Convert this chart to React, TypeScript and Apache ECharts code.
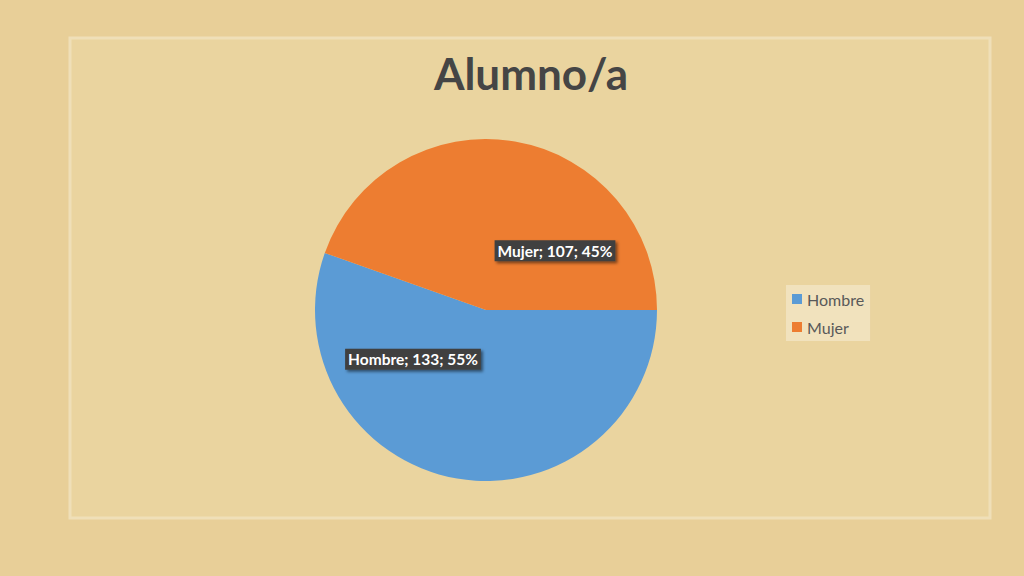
import React, { useEffect, useRef } from "react";
import * as echarts from "echarts";

const categories = ["Hombre", "Mujer"];
const values = [133, 107];
const colors = ["#5b9bd5", "#ed7d31"];
const labelOffsets: [number, number][] = [
  [-58, -38],
  [54, 28],
];
const titleText = "Alumno/a";

export default function App() {
  const ref = useRef<HTMLDivElement>(null);
  useEffect(() => {
    if (!ref.current) return;
    const chart = echarts.init(ref.current, undefined, { renderer: "svg" });
    const font = "Lato, 'Open Sans', sans-serif";
    chart.setOption({
      animation: false,
      backgroundColor: "#e8cf98",
      graphic: [
        {
          type: "rect",
          z: -10,
          shape: { x: 70, y: 38, width: 920, height: 480 },
          style: { fill: "#ead49f", stroke: "#efdfb8", lineWidth: 3 },
        },
      ],
      title: {
        text: titleText,
        left: 526,
        textAlign: "center",
        top: 46,
        textStyle: {
          fontFamily: font,
          fontWeight: "bold",
          fontSize: 44,
          color: "#454545",
        },
      },
      legend: {
        orient: "vertical",
        left: 786,
        top: 285,
        itemWidth: 10,
        itemHeight: 10,
        itemGap: 12,
        padding: [6, 6, 6, 6],
        backgroundColor: "rgba(245,235,210,0.6)",
        icon: "rect",
        data: categories,
        textStyle: { fontFamily: font, fontSize: 16, color: "#595959" },
      },
      series: [
        {
          type: "pie",
          center: [486, 310],
          radius: [0, 171],
          startAngle: 0,
          clockwise: true,
          percentPrecision: 0,
          avoidLabelOverlap: false,
          data: categories.map((c, i) => ({
            name: c,
            value: values[i],
            itemStyle: { color: colors[i] },
            label: { offset: labelOffsets[i] },
          })),
          label: {
            show: true,
            position: "inside",
            formatter: "{b}; {c}; {d}%",
            fontFamily: font,
            fontWeight: "bold",
            fontSize: 15.5,
            color: "#ffffff",
            backgroundColor: "#404040",
            padding: [3, 3, 2, 3],
            shadowBlur: 3,
            shadowColor: "rgba(0,0,0,0.5)",
            shadowOffsetX: 2,
            shadowOffsetY: 2,
          },
          labelLine: { show: false },
          emphasis: { disabled: true },
        },
      ],
    });
    return () => chart.dispose();
  }, []);
  return (
    <div
      ref={ref}
      style={{ position: "fixed", left: 0, top: 0, width: 1024, height: 576 }}
    />
  );
}
